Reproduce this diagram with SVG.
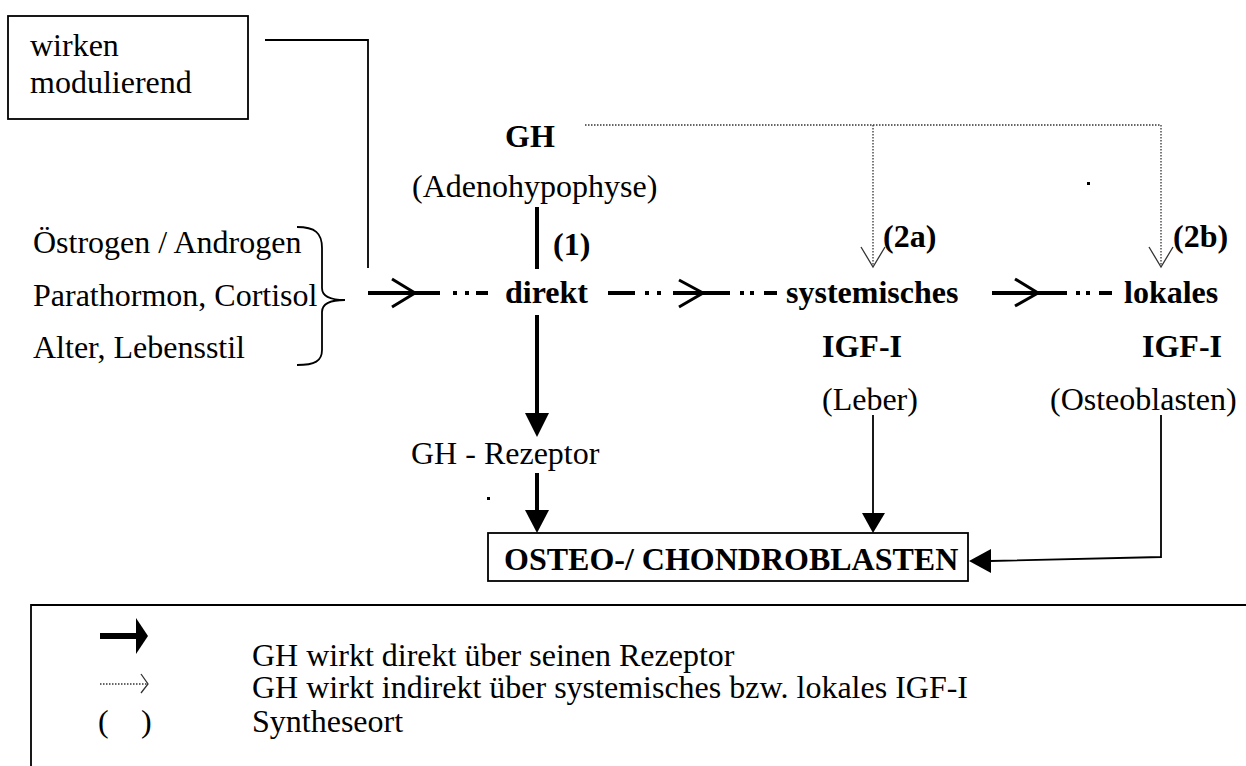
<svg xmlns="http://www.w3.org/2000/svg" width="1246" height="766" viewBox="0 0 1246 766">
  <style>
    text { font-family: "Liberation Serif", "Times New Roman", serif; font-size: 32px; fill: #000; }
    .b { font-weight: bold; }
    .box { fill: #fff; stroke: #000; stroke-width: 1.8; }
    .thin { fill: none; stroke: #000; stroke-width: 1.8; }
    .thick { fill: none; stroke: #000; stroke-width: 4; }
    .chev { fill: none; stroke: #000; stroke-width: 3; }
    .dotted { fill: none; stroke: #333; stroke-width: 1.3; stroke-dasharray: 1.5 1.5; }
    .openhead { fill: none; stroke: #333; stroke-width: 1.3; }
  </style>

  <!-- modulating factors -->
  <g id="modulierend">
    <rect class="box" x="8" y="16" width="240" height="103"/>
    <text x="30" y="56">wirken</text>
    <text x="30" y="93">modulierend</text>
  </g>

  <g id="faktoren">
    <text x="33" y="253">Östrogen / Androgen</text>
    <text x="33" y="306">Parathormon, Cortisol</text>
    <text x="33" y="358">Alter, Lebensstil</text>
    <path class="thin" d="M297,227 C315,227 322,233 322,248 L322,288 C322,296 330,300 345,300 C330,300 322,304 322,312 L322,350 C322,361 315,365 297,365"/>
  </g>

  <g id="gh">
    <text class="b" x="505" y="147">GH</text>
    <text x="412" y="197">(Adenohypophyse)</text>
  </g>

  <g id="direkt">
    <text class="b" x="553" y="255">(1)</text>
    <text class="b" x="505" y="303">direkt</text>
  </g>

  <g id="rezeptor">
    <text x="411" y="464">GH - Rezeptor</text>
  </g>

  <g id="systemisch">
    <text class="b" x="883" y="247">(2a)</text>
    <text class="b" x="786" y="303">systemisches</text>
    <text class="b" x="822" y="357">IGF-I</text>
    <text x="822" y="410">(Leber)</text>
  </g>

  <g id="lokal">
    <text class="b" x="1173" y="247">(2b)</text>
    <text class="b" x="1124" y="303">lokales</text>
    <text class="b" x="1142" y="357">IGF-I</text>
    <text x="1050" y="410">(Osteoblasten)</text>
  </g>

  <g id="zielzellen">
    <rect class="box" x="488" y="533" width="480" height="48"/>
    <text class="b" x="504" y="570">OSTEO-/ CHONDROBLASTEN</text>
  </g>

  <g id="connectors">
    <!-- modulating link -->
    <polyline class="thin" points="265,40 368,40 368,268"/>

    <!-- dash-dot-dot chain with open chevrons -->
    <g class="thick">
      <line x1="368" y1="293" x2="440" y2="293"/>
      <line x1="453" y1="293" x2="457" y2="293"/>
      <line x1="465" y1="293" x2="469" y2="293"/>
      <line x1="476" y1="293" x2="488" y2="293"/>

      <line x1="608" y1="293" x2="635" y2="293"/>
      <line x1="645" y1="293" x2="649" y2="293"/>
      <line x1="657" y1="293" x2="661" y2="293"/>
      <line x1="673" y1="293" x2="730" y2="293"/>
      <line x1="740" y1="293" x2="744" y2="293"/>
      <line x1="750" y1="293" x2="754" y2="293"/>
      <line x1="764" y1="293" x2="777" y2="293"/>

      <line x1="992" y1="293" x2="1067" y2="293"/>
      <line x1="1076" y1="293" x2="1080" y2="293"/>
      <line x1="1086" y1="293" x2="1090" y2="293"/>
      <line x1="1099" y1="293" x2="1112" y2="293"/>
    </g>
    <polyline class="chev" points="392,279 415,293 392,307"/>
    <polyline class="chev" points="679,280 703,293 679,307"/>
    <polyline class="chev" points="1015,279 1038,293 1015,306"/>

    <!-- direct GH path -->
    <line class="thick" x1="537" y1="207" x2="537" y2="269"/>
    <line class="thick" x1="537" y1="315" x2="537" y2="414"/>
    <polygon points="525,413 549,413 537,437"/>
    <line class="thick" x1="537" y1="473" x2="537" y2="511"/>
    <polygon points="525,510 549,510 537,533"/>

    <!-- indirect GH paths (dotted) -->
    <polyline class="dotted" points="585,125 1161,125 1161,266"/>
    <line class="dotted" x1="873" y1="125" x2="873" y2="266"/>
    <polyline class="openhead" points="861,247 873,267 885,247"/>
    <polyline class="openhead" points="1149,247 1161,267 1173,247"/>

    <!-- IGF-I to target cells -->
    <line class="thin" x1="873" y1="415" x2="873" y2="514"/>
    <polygon points="862,513 885,513 873,533"/>
    <polyline class="thin" points="1161,415 1161,557 990,561"/>
    <polygon points="991,549 991,573 969,561"/>
  </g>

  <!-- stray specks -->
  <rect x="487" y="497" width="3" height="3"/>
  <rect x="1087" y="182" width="3" height="3"/>

  <!-- legend -->
  <g id="legende">
    <path class="box" fill="none" d="M31,766 V605 H1246" style="fill:none"/>
    <line x1="100" y1="636" x2="137" y2="636" stroke="#000" stroke-width="6"/>
    <polygon points="136,618 148,636 136,654"/>
    <line class="dotted" x1="100" y1="684" x2="147" y2="684" stroke-width="1"/>
    <polyline class="openhead" stroke-width="1" points="141,674 148,684 141,693"/>
    <text x="98" y="732">(</text>
    <text x="141" y="732">)</text>
    <text x="252" y="666">GH wirkt direkt über seinen Rezeptor</text>
    <text x="252" y="698">GH wirkt indirekt über systemisches bzw. lokales IGF-I</text>
    <text x="252" y="732">Syntheseort</text>
  </g>
</svg>
